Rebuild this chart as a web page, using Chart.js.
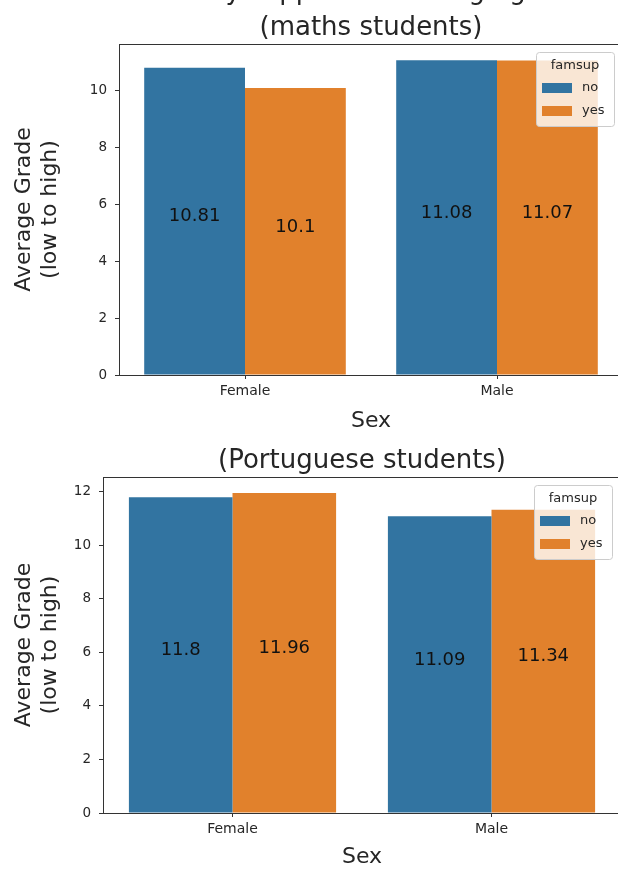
<!DOCTYPE html>
<html>
<head>
<meta charset="utf-8">
<script src="https://cdn.jsdelivr.net/npm/chart.js@4/dist/chart.umd.min.js"></script>
<style>
  html, body { margin: 0; padding: 0; background: #fff; overflow: hidden; width: 618px; height: 869px; }
  canvas { position: absolute; left: 0; }
  #maths { top: 0; }
  #port { top: 438px; }
</style>
</head>
<body>
<canvas id="maths" width="640" height="438"></canvas>
<canvas id="port" width="640" height="436"></canvas>
<script>
// data
const sexes = ['Female', 'Male'];
const famsupLevels = ['no', 'yes'];
const mathsNo = [10.81, 11.08];
const mathsYes = [10.1, 11.07];
const portNo = [11.8, 11.09];
const portYes = [11.96, 11.34];
const mathsTitle = ['Family support vs average grade', '(maths students)'];
const portTitle = ['(Portuguese students)'];
const yTitle = ['Average Grade', '(low to high)'];
const xTitle = 'Sex';

const BLUE = '#3274a1';
const ORANGE = '#e1812c';
const INK = '#262626';
const FONT = 'DejaVu Sans';

Chart.defaults.font.family = FONT;
Chart.defaults.color = INK;

// title centred over the plot area, like matplotlib's ax.set_title
const plotTitle = {
  id: 'plotTitle',
  afterDraw(chart, args, opts) {
    const { ctx, chartArea: a } = chart;
    const lines = opts.text;
    ctx.save();
    ctx.font = '26px "' + FONT + '"';
    ctx.fillStyle = INK;
    ctx.textAlign = 'center';
    ctx.textBaseline = 'alphabetic';
    const cx = (a.left + a.right) / 2;
    lines.forEach((t, i) => {
      const up = lines.length - 1 - i;
      ctx.fillText(t, cx, a.top - 9 - up * 36);
    });
    ctx.restore();
  }
};

// frame round the plot area (matplotlib spines)
const framePlugin = {
  id: 'frame',
  afterDatasetsDraw(chart) {
    const { ctx, chartArea: a } = chart;
    ctx.save();
    ctx.strokeStyle = '#333';
    ctx.lineWidth = 1;
    ctx.strokeRect(Math.round(a.left) + 0.5, Math.round(a.top) + 0.5,
      Math.round(a.right - a.left), Math.round(a.bottom - a.top));
    ctx.restore();
  }
};

// value printed in the middle of each bar
const valueLabels = {
  id: 'valueLabels',
  afterDatasetsDraw(chart) {
    const { ctx } = chart;
    const y = chart.scales.y;
    ctx.save();
    ctx.font = '18px "' + FONT + '"';
    ctx.fillStyle = '#111';
    ctx.textAlign = 'center';
    ctx.textBaseline = 'alphabetic';
    chart.data.datasets.forEach((ds, i) => {
      chart.getDatasetMeta(i).data.forEach((bar, j) => {
        const v = ds.data[j];
        ctx.fillText(String(v), bar.x, y.getPixelForValue(v / 2));
      });
    });
    ctx.restore();
  }
};

// seaborn style legend box in the upper right
const boxLegend = {
  id: 'boxLegend',
  afterDraw(chart) {
    const { ctx, chartArea: a } = chart;
    const w = 78, h = 74;
    const left = a.right - 87, top = a.top + 8;
    ctx.save();
    ctx.fillStyle = 'rgba(255,255,255,0.8)';
    ctx.strokeStyle = '#cccccc';
    ctx.lineWidth = 1;
    ctx.beginPath();
    ctx.roundRect(left + 0.5, top + 0.5, w, h, 3);
    ctx.fill();
    ctx.stroke();
    ctx.fillStyle = INK;
    ctx.font = '13px "' + FONT + '"';
    ctx.textAlign = 'center';
    ctx.textBaseline = 'middle';
    ctx.fillText('famsup', left + w / 2, top + 14);
    ctx.textAlign = 'left';
    chart.data.datasets.forEach((ds, i) => {
      const cy = top + 36 + i * 23;
      ctx.fillStyle = ds.backgroundColor;
      ctx.fillRect(left + 6, cy - 5, 30, 10);
      ctx.fillStyle = INK;
      ctx.fillText(ds.label, left + 46, cy);
    });
    ctx.restore();
  }
};

function makeChart(id, title, no, yes, yMax, opts) {
  return new Chart(document.getElementById(id), {
    type: 'bar',
    data: {
      labels: sexes,
      datasets: [
        { label: famsupLevels[0], data: no, backgroundColor: BLUE },
        { label: famsupLevels[1], data: yes, backgroundColor: ORANGE },
      ],
    },
    options: {
      responsive: false,
      animation: false,
      devicePixelRatio: 1,
      layout: { padding: { left: 0, right: opts.rightPad, top: opts.topPad, bottom: 0 } },
      datasets: { bar: { categoryPercentage: 0.8, barPercentage: 1.0, borderWidth: 0 } },
      plugins: {
        legend: { display: false },
        tooltip: { enabled: false },
        title: { display: false },
        plotTitle: { text: title },
      },
      scales: {
        x: {
          offset: true,
          grid: { offset: false, drawOnChartArea: false, tickLength: 4, color: '#333' },
          border: { display: false },
          ticks: { font: { size: 14 }, padding: 4, color: INK },
          title: { display: true, text: xTitle, font: { size: 22 }, color: INK, padding: { top: 4, bottom: 4 } },
          afterFit(axis) { axis.height = opts.xHeight; },
        },
        y: {
          min: 0,
          max: yMax,
          grid: { drawOnChartArea: false, tickLength: 4, color: '#333' },
          border: { display: false },
          ticks: { stepSize: 2, includeBounds: false, font: { size: 13.5 }, padding: 8, color: INK },
          title: { display: true, text: yTitle, font: { size: 22, lineHeight: 1.2 }, color: INK, padding: { top: 11, bottom: 4 } },
          afterFit(axis) { axis.width = opts.yWidth; },
        },
      },
    },
    plugins: [framePlugin, valueLabels, boxLegend, plotTitle],
  });
}

makeChart('maths', mathsTitle, mathsNo, mathsYes, 11.65,
  { yWidth: 119, xHeight: 63, rightPad: 17, topPad: 44 });
makeChart('port', portTitle, portNo, portYes, 12.56,
  { yWidth: 103, xHeight: 61, rightPad: 19, topPad: 39 });
</script>
</body>
</html>
